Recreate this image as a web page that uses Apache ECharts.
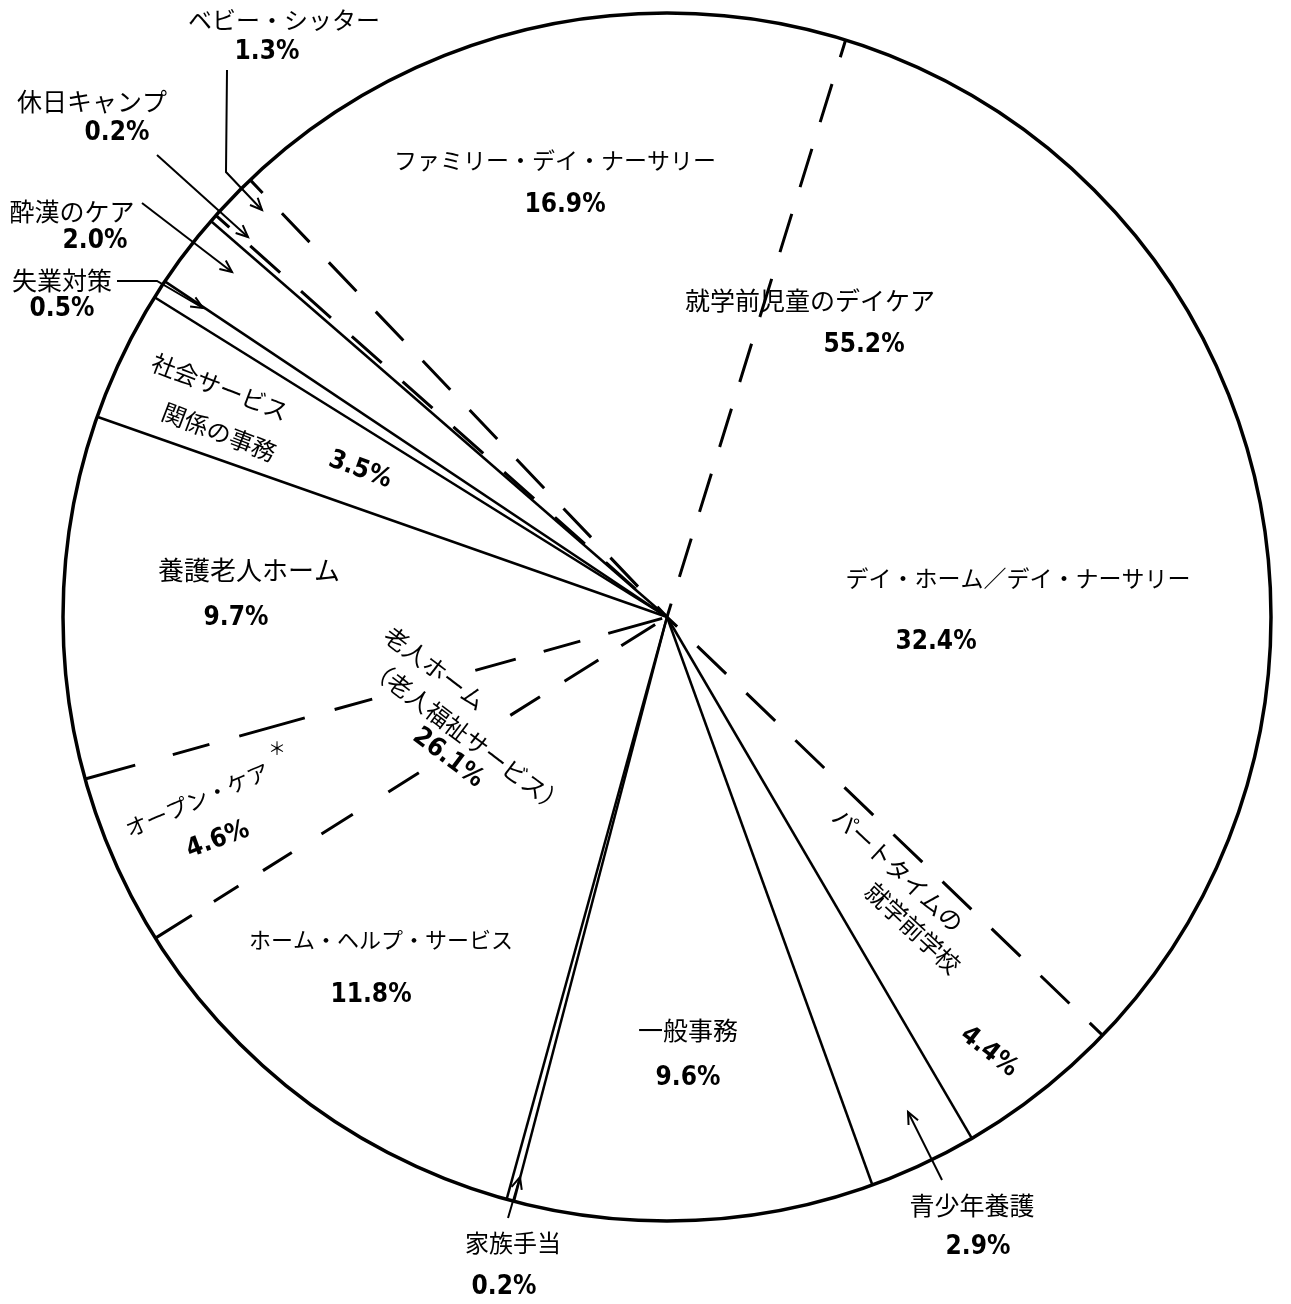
<!DOCTYPE html>
<html>
<head>
<meta charset="utf-8">
<script src="https://cdn.jsdelivr.net/npm/echarts@6/dist/echarts.min.js"></script>
<style>
html,body{margin:0;padding:0;background:#fff;}
#c{width:1291px;height:1304px;}
</style>
</head>
<body>
<div id="c"></div>
<script>
// ---------- data ----------
const categories = [
  'デイ・ホーム／デイ・ナーサリー',
  'パートタイムの\n就学前学校',
  '青少年養護',
  '一般事務',
  '家族手当',
  'ホーム・ヘルプ・サービス',
  'オープン・ケア＊',
  '養護老人ホーム',
  '社会サービス\n関係の事務',
  '失業対策',
  '酔漢のケア',
  '休日キャンプ',
  'ベビー・シッター',
  'ファミリー・デイ・ナーサリー'
];
const values = [32.4, 4.4, 2.9, 9.6, 0.2, 11.8, 4.6, 9.7, 3.5, 0.5, 2.0, 0.2, 1.3, 16.9];
// group membership (0: 就学前児童のデイケア, 1: 老人ホーム, -1: none)
const groupOf = [0, 0, -1, -1, -1, 1, 1, 1, -1, -1, -1, 0, 0, 0];
const groupNames = ['就学前児童のデイケア', '老人ホーム\n（老人福祉サービス）'];
const groupValues = [55.2, 26.1];

// ---------- layout ----------
const CX = 667, CY = 617, R = 604, OFFSET_DEG = 17.2;
const START = 90 - OFFSET_DEG;

const labelPlace = [
  {name: [[1018, 578]], val: [936, 642], fs: 23},
  {name: [[898, 870], [913, 928]], val: [989, 1052], rot: -43, vrot: -38, fs: 24},
  {name: [[972, 1205]], val: [978, 1247], fs: 25},
  {name: [[688, 1030]], val: [688, 1078], fs: 25},
  {name: [[513, 1243]], val: [504, 1287], fs: 24},
  {name: [[381, 940]], val: [371, 995], fs: 22},
  {name: [[197, 800]], val: [218, 840], rot: 23, vrot: 20, fs: 22, mark: [277, 748]},
  {name: [[249, 570]], val: [236, 618], fs: 26},
  {name: [[220, 387], [219, 432]], val: [360, 470], rot: -21, vrot: -20, fs: 24},
  {name: [[62, 280]], val: [62, 309], fs: 25},
  {name: [[72, 211]], val: [95, 241], fs: 25},
  {name: [[92, 101]], val: [117, 133], fs: 25},
  {name: [[284, 20]], val: [267, 52], fs: 24},
  {name: [[555, 160]], val: [565, 205], fs: 23}
];
const groupPlace = [
  {name: [[810, 300]], val: [864, 345], fs: 25},
  {name: [[435, 668], [467, 736]], val: [448, 758], rot: -37, vrot: -37, fs: 24}
];
const leaders = [
  [[227, 70], [226, 172], [262, 210]],
  [[157, 155], [248, 237]],
  [[142, 203], [232, 272]],
  [[117, 281], [157, 281], [203, 308]],
  [[508, 1218], [520, 1177]],
  [[942, 1180], [908, 1112]]
];
// hand-drawn dash rhythm (rim -> centre) for boundaries that wrap around labels
const dashRhythm = {
  5: [43, 26, 29, 29, 34, 35, 37, 42, 36, 108, 35, 29, 40, 27, 40, 14],
  6: [52, 39, 38, 31, 68, 31, 39, 107, 42, 29, 38, 29, 56, 20]
};

const JP = "'Noto Sans CJK JP', 'Noto Sans CJK SC', sans-serif";
const NUM = "'Liberation Sans Narrow', 'DejaVu Sans Condensed', 'Liberation Sans', sans-serif";
const pct = v => v.toFixed(1) + '%';

function txt(text, p, rotDeg, font) {
  return {
    type: 'text', x: p[0], y: p[1], rotation: (rotDeg || 0) * Math.PI / 180,
    silent: true, z: 100,
    style: {text: text, fill: '#000', font: font, align: 'center', verticalAlign: 'middle'}
  };
}

const elements = [];
function addLabel(name, value, pl) {
  let lines = name.split('\n');
  let mark = null;
  if (pl.mark && lines[lines.length - 1].endsWith('＊')) {
    lines[lines.length - 1] = lines[lines.length - 1].slice(0, -1);
    mark = '＊';
  }
  lines.forEach((ln, k) => elements.push(txt(ln, pl.name[k], pl.rot, pl.fs + 'px ' + JP)));
  if (mark) elements.push(txt(mark, pl.mark, 0, '18px ' + JP));
  elements.push(txt(pct(value), pl.val, pl.vrot != null ? pl.vrot : (pl.rot || 0), 'bold 26px ' + NUM));
}
categories.forEach((c, i) => addLabel(c, values[i], labelPlace[i]));
groupNames.forEach((g, i) => addLabel(g, groupValues[i], groupPlace[i]));

leaders.forEach(pts => {
  const n = pts.length;
  const [x2, y2] = pts[n - 1], [x1, y1] = pts[n - 2];
  const a = Math.atan2(y2 - y1, x2 - x1), L = 13, w = 0.42;
  const b1 = [x2 - L * Math.cos(a - w), y2 - L * Math.sin(a - w)];
  const b2 = [x2 - L * Math.cos(a + w), y2 - L * Math.sin(a + w)];
  elements.push({type: 'polyline', silent: true, z: 100, shape: {points: pts},
    style: {stroke: '#000', lineWidth: 2, fill: null}});
  elements.push({type: 'polyline', silent: true, z: 100, shape: {points: [b1, [x2, y2], b2]},
    style: {stroke: '#000', lineWidth: 2, fill: null}});
});

// cumulative boundaries
const cum = [];
let acc = 0;
values.forEach(v => { acc += v; cum.push(Math.round(acc * 10) / 10); });

const boundarySeries = values.map((v, i) => {
  const j = (i + 1) % values.length;
  const dashed = groupOf[i] !== -1 && groupOf[i] === groupOf[j];
  const custom = dashRhythm[i];
  return {
    type: 'line', coordinateSystem: 'polar', polarIndex: 0, silent: true,
    symbol: 'none', z: 3, animation: false,
    data: [[1, cum[i]], [0, cum[i]]],
    lineStyle: {color: '#000', width: dashed ? 3 : 2.5,
      type: dashed ? (custom || [40, 28]) : 'solid', dashOffset: custom ? 0 : 22}
  };
});

const chart = echarts.init(document.getElementById('c'));
chart.setOption({
  backgroundColor: '#fff',
  animation: false,
  polar: {center: [CX, CY], radius: R},
  angleAxis: {
    type: 'value', min: 0, max: 100, startAngle: START, clockwise: true,
    axisLine: {show: true, lineStyle: {color: '#000', width: 3.5}},
    axisTick: {show: false}, axisLabel: {show: false}, splitLine: {show: false}
  },
  radiusAxis: {
    type: 'value', min: 0, max: 1,
    axisLine: {show: false}, axisTick: {show: false}, axisLabel: {show: false}, splitLine: {show: false}
  },
  series: [{
    type: 'pie', center: [CX, CY], radius: R, startAngle: START, clockwise: true,
    silent: true, z: 1,
    label: {show: false}, labelLine: {show: false},
    emphasis: {disabled: true},
    itemStyle: {color: 'rgba(255,255,255,0)', borderWidth: 0},
    data: categories.map((c, i) => ({name: c.replace('\n', ''), value: values[i]}))
  }].concat(boundarySeries),
  graphic: {elements: elements}
});
</script>
</body>
</html>
